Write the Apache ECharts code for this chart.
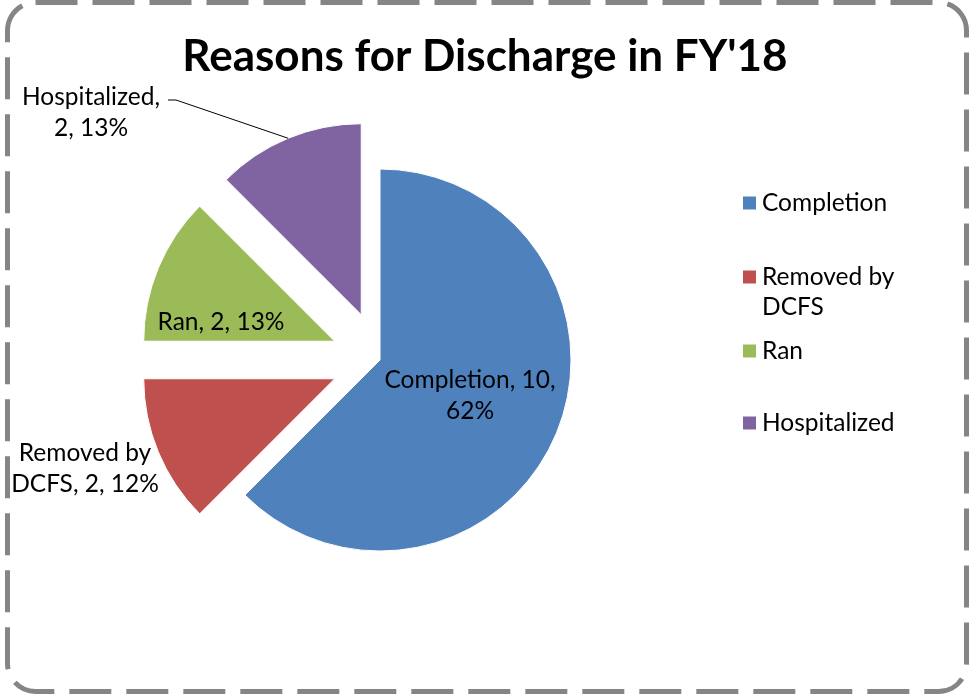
<!DOCTYPE html>
<html>
<head>
<meta charset="utf-8">
<title>Reasons for Discharge in FY'18</title>
<script src="https://cdn.jsdelivr.net/npm/echarts@6/dist/echarts.min.js"></script>
<style>
  html, body { margin: 0; padding: 0; background: #ffffff; }
  #chart { width: 970px; height: 694px; }
</style>
</head>
<body>
<div id="chart"></div>
<script>
// === DATA ===
const categories = ['Completion', 'Removed by DCFS', 'Ran', 'Hospitalized'];
const counts = [10, 2, 2, 2];
const percents = [62, 12, 13, 13];          // as printed on the chart (rounded)
const colors = ['#4F81BD', '#C0504D', '#9BBB59', '#8064A2'];
const exploded = [false, true, true, true];

// === LAYOUT ===
const CENTER = [380, 360];
const RADIUS = 191;
const EXPLODE = 49;
const FONT = 'Lato, "Open Sans", sans-serif';
const LABEL_SPOTS = [[470, 396], [85, 469], [221, 322], [91, 113]];
// per-item legend padding, mimics the uneven Excel legend spacing
const LEGEND_PAD = [[14, 0, 14, 0], [0, 0, 0, 0], [14, 0, 14, 0], [28, 0, 28, 0]];

// blank first line keeps the marker level with "Removed by"
const legendText = { 'Removed by DCFS': '\nRemoved by\nDCFS' };

function sliceLabel(i) {
    const full = `${categories[i]}, ${counts[i]}, ${percents[i]}%`;
    switch (i) {
        case 0: return full.replace(`${counts[i]}, `, `${counts[i]},\n`);
        case 1: return full.replace('by ', 'by\n');
        case 3: return full.replace(', ', ',\n');
        default: return full;
    }
}

const chart = echarts.init(document.getElementById('chart'));

const pieBase = {
    type: 'pie',
    center: CENTER,
    radius: RADIUS,
    startAngle: 90,
    clockwise: true,
    avoidLabelOverlap: false,
    emphasis: { disabled: true }
};

chart.setOption({
    backgroundColor: '#ffffff',
    animation: false,
    title: {
        text: "Reasons for Discharge in FY'18",
        left: 'center',
        top: 30,
        textStyle: { fontFamily: FONT, fontSize: 44, fontWeight: 'bold', color: '#000000' }
    },
    legend: {
        orient: 'vertical',
        left: 741,
        top: 174,
        padding: 0,
        itemWidth: 15,
        itemHeight: 15,
        itemGap: 0,
        icon: 'rect',
        data: categories.map((name, i) => ({
            name: name,
            textStyle: { padding: LEGEND_PAD[i] }
        })),
        formatter: name => legendText[name] || name,
        textStyle: { fontFamily: FONT, fontSize: 24.5, lineHeight: 30, color: '#000000' }
    },
    graphic: [{
        type: 'rect',
        shape: { x: 7.5, y: 2.5, width: 959, height: 689, r: 28 },
        style: { fill: 'none', stroke: '#858585', lineWidth: 5, lineDash: [42, 15] },
        silent: true
    }],
    series: [
        // visible slices, small ones pulled out
        Object.assign({}, pieBase, {
            selectedMode: 'multiple',
            selectedOffset: EXPLODE,
            itemStyle: { borderColor: '#ffffff', borderWidth: 1 },
            label: { show: false },
            labelLine: { show: false },
            data: categories.map((name, i) => ({
                name: name,
                value: counts[i],
                selected: exploded[i],
                itemStyle: { color: colors[i] }
            }))
        }),
        // same pie, transparent, only carries the data labels
        Object.assign({}, pieBase, {
            silent: true,
            z: 3,
            itemStyle: { color: 'rgba(0,0,0,0)' },
            label: {
                fontFamily: FONT,
                fontSize: 24.5,
                lineHeight: 31,
                color: '#000000',
                formatter: p => sliceLabel(p.dataIndex)
            },
            data: categories.map((name, i) => ({
                name: name,
                value: counts[i],
                label: { position: (i === 0 || i === 2) ? 'inside' : 'outside', align: 'center' },
                labelLine: { show: i === 3, lineStyle: { color: '#000000', width: 1 } }
            })),
            labelLayout: function (p) {
                const s = LABEL_SPOTS[p.dataIndex];
                const out = { x: s[0], y: s[1], align: 'center', verticalAlign: 'middle' };
                if (p.dataIndex === 3 && p.labelLinePoints) {
                    // move the leader line start onto the pulled-out slice edge
                    const e = p.labelLinePoints[0];
                    const dx = e[0] - CENTER[0], dy = e[1] - CENTER[1];
                    const len = Math.sqrt(dx * dx + dy * dy);
                    const edge = [e[0] + dx / len * EXPLODE, e[1] + dy / len * EXPLODE];
                    out.labelLinePoints = [edge, [176, 100], [168, 100]];
                }
                return out;
            }
        })
    ]
});
</script>
</body>
</html>
